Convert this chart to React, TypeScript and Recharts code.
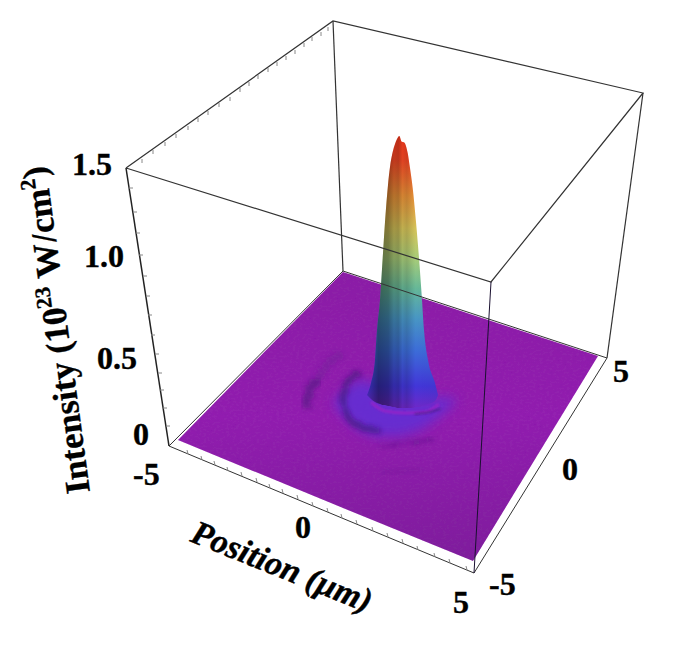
import { ComposedChart, Area, Line, Scatter, XAxis, YAxis } from 'recharts';

type Pt = { x: number; y: number };

const topFace: Pt[] = [{ x: 126, y: 168 }, { x: 333, y: 21 }, { x: 643, y: 93 }, { x: 491, y: 282 }, { x: 126, y: 168 }];
const bottomFace: Pt[] = [{ x: 169, y: 446 }, { x: 343, y: 271 }, { x: 607, y: 358 }, { x: 474, y: 573 }, { x: 169, y: 446 }];
const leftEdge: Pt[] = [{ x: 126, y: 168 }, { x: 169, y: 446 }];
const backEdge: Pt[] = [{ x: 333, y: 21 }, { x: 343, y: 271 }];
const rightEdge: Pt[] = [{ x: 643, y: 93 }, { x: 607, y: 358 }];
const frontEdge: Pt[] = [{ x: 491, y: 282 }, { x: 474, y: 573 }];

const floorX = [178, 343, 473, 598];
const floorTop = [440, 272, 315, 356];
const floorBottom = [440, 508, 561, 356];

const peakX = [367, 371, 375, 377, 380, 382.7, 385, 388, 390, 392.7, 395, 397, 399.3, 401.7, 404, 407.7, 410, 412.7, 416, 419, 422, 424, 428, 435, 438];
const peakTop = [395, 383, 360, 330, 300, 258, 222, 185, 167, 152, 144, 139, 136, 141.7, 142.3, 153, 168, 188, 222, 258, 300, 330, 360, 383, 395];
const peakBottom = [395, 399, 402, 403, 404, 405, 405, 406, 406, 407, 407, 408, 408, 408, 408, 408, 408, 408, 407, 407, 406, 405, 404, 401, 395];

const haloX = [334, 350, 360, 375, 400, 420, 435, 455];
const haloTop = [402, 384, 380, 384, 392, 398, 398, 398];
const haloBottom = [405, 422, 430, 436, 436, 430, 420, 403];

const crescent: Pt[] = [{ x: 358, y: 374 }, { x: 349, y: 380 }, { x: 344, y: 393 }, { x: 343, y: 408 }, { x: 350, y: 420 }, { x: 362, y: 427 }, { x: 377, y: 430 }];
const baseRing: Pt[] = [{ x: 372, y: 403 }, { x: 385, y: 411 }, { x: 405, y: 413 }, { x: 425, y: 412 }, { x: 438, y: 405 }];
const baseCrease: Pt[] = [{ x: 415, y: 414 }, { x: 430, y: 412 }, { x: 440, y: 409 }];
const lowerRipple: Pt[] = [{ x: 383, y: 447 }, { x: 405, y: 443 }, { x: 433, y: 440 }];
const faintRipple: Pt[] = [{ x: 383, y: 473 }, { x: 405, y: 471 }, { x: 423, y: 469 }];
const outerRipple: Pt[] = [{ x: 340, y: 356 }, { x: 330, y: 362 }, { x: 318, y: 378 }];
const outerPatch: Pt[] = [{ x: 316, y: 382 }, { x: 309, y: 392 }, { x: 306, y: 405 }];

const topTicks: Pt[] = [
  { x: 142, y: 159 }, { x: 153, y: 150 }, { x: 165, y: 142 }, { x: 176, y: 134 }, { x: 188, y: 126 },
  { x: 198, y: 118 }, { x: 208, y: 111 }, { x: 219, y: 103 }, { x: 230, y: 97 }, { x: 240, y: 88 },
  { x: 249, y: 82 }, { x: 258, y: 75 }, { x: 268, y: 68 }, { x: 277, y: 62 }, { x: 286, y: 56 },
  { x: 295, y: 50 }, { x: 304, y: 43 }, { x: 312, y: 37 }, { x: 321, y: 32 }, { x: 328, y: 27 },
];
const intensityTicks: Pt[] = [
  { x: 129, y: 188 }, { x: 133, y: 212 }, { x: 136, y: 233 }, { x: 139, y: 255 }, { x: 143, y: 276 }, { x: 146, y: 296 },
  { x: 148, y: 315 }, { x: 151, y: 335 }, { x: 155, y: 354 }, { x: 158, y: 373 }, { x: 160, y: 390 }, { x: 163, y: 408 }, { x: 166, y: 426 },
];
const positionTicks: Pt[] = [
  { x: 188, y: 454 }, { x: 202, y: 460 }, { x: 215, y: 465 }, { x: 228, y: 471 }, { x: 242, y: 476 }, { x: 257, y: 482 }, { x: 270, y: 488 },
  { x: 283, y: 493 }, { x: 298, y: 499 }, { x: 313, y: 506 }, { x: 328, y: 512 }, { x: 342, y: 518 }, { x: 357, y: 524 }, { x: 373, y: 531 },
  { x: 388, y: 537 }, { x: 403, y: 543 }, { x: 418, y: 550 }, { x: 435, y: 557 }, { x: 450, y: 563 }, { x: 467, y: 570 },
];

const tickLabels = [
  { x: 72, y: 175, label: '1.5' }, { x: 84, y: 267, label: '1.0' }, { x: 97, y: 369, label: '0.5' }, { x: 133, y: 445, label: '0' },
  { x: 133, y: 485, label: '-5' }, { x: 295, y: 538, label: '0' }, { x: 453, y: 613, label: '5' },
  { x: 613, y: 382, label: '5' }, { x: 562, y: 480, label: '0' }, { x: 489, y: 595, label: '-5' },
];
const positionTitle = [{ x: 189, y: 541 }];
const intensityTitle = [{ x: 90, y: 492 }];

const zip3 = (xs: number[], lo: number[], hi: number[]) => xs.map((x, i) => ({ x, range: [lo[i], hi[i]] }));

const serif = '"Liberation Serif", "Times New Roman", serif';

const TickLabel = (p: any) => (
  <text x={p.cx} y={p.cy} fontFamily={serif} fontWeight="bold" fontSize={32} fill="#000" stroke="#000" strokeWidth={0.4}>
    {p.payload.label}
  </text>
);

const PositionTitle = (p: any) => (
  <text transform={`translate(${p.cx},${p.cy}) rotate(22)`} fontFamily={serif} fontWeight="bold" fontStyle="italic" fontSize={34} fill="#000" stroke="#000" strokeWidth={0.4}>
    Position (μm)
  </text>
);

const IntensityTitle = (p: any) => (
  <text transform={`translate(${p.cx},${p.cy}) rotate(-97.7)`} fontFamily={serif} fontWeight="bold" fontSize={35} fill="#000" stroke="#000" strokeWidth={0.3}>
    Intensity (10
    <tspan fontSize={22} dy={-13}>23</tspan>
    <tspan dy={13}> W/cm</tspan>
    <tspan fontSize={22} dy={-13}>2</tspan>
    <tspan dy={13}>)</tspan>
  </text>
);

const tick = (dx: number, dy: number) => (p: any) => (
  <line x1={p.cx} y1={p.cy} x2={p.cx + dx} y2={p.cy + dy} stroke="#888" strokeWidth={1} />
);

const edge = (pts: Pt[], w = 1.2, color = '#333') => (
  <Line data={pts} dataKey="y" stroke={color} strokeWidth={w} dot={false} activeDot={false} isAnimationActive={false} legendType="none" />
);

const ripple = (pts: Pt[], w: number, color: string, opacity: number, filter = 'url(#fuzz)') => (
  <Line data={pts} dataKey="y" type="monotone" stroke={color} strokeWidth={w} strokeOpacity={opacity} strokeLinecap="round" dot={false} activeDot={false} isAnimationActive={false} filter={filter} />
);

export default function App() {
  return (
    <div style={{ position: 'absolute', left: 0, top: 0, width: 680, height: 647, background: '#fff' }}>
      <ComposedChart width={680} height={647} margin={{ top: 0, right: 0, bottom: 0, left: 0 }}>
        <defs>
          <linearGradient id="floorFill" x1="0" y1="0" x2="0" y2="1">
            <stop offset="0%" stopColor="#8c22a6" />
            <stop offset="50%" stopColor="#9324b0" />
            <stop offset="100%" stopColor="#7f209c" />
          </linearGradient>
          <linearGradient id="peakFill" x1="0" y1="0" x2="0" y2="1">
            <stop offset="0%" stopColor="#ff3a1e" />
            <stop offset="9%" stopColor="#f84a26" />
            <stop offset="22%" stopColor="#ea9238" />
            <stop offset="34%" stopColor="#d4c258" />
            <stop offset="45%" stopColor="#a8cc78" />
            <stop offset="56%" stopColor="#66b898" />
            <stop offset="67%" stopColor="#4896c4" />
            <stop offset="79%" stopColor="#3c6cd8" />
            <stop offset="92%" stopColor="#4236d8" />
            <stop offset="100%" stopColor="#6e28c8" />
          </linearGradient>
          <linearGradient id="peakShade" x1="0" y1="0" x2="1" y2="0">
            <stop offset="0%" stopColor="#000" stopOpacity="0.15" />
            <stop offset="16%" stopColor="#000" stopOpacity="0.45" />
            <stop offset="30%" stopColor="#000" stopOpacity="0.38" />
            <stop offset="38%" stopColor="#000" stopOpacity="0.22" />
            <stop offset="44%" stopColor="#000" stopOpacity="0.26" />
            <stop offset="50%" stopColor="#000" stopOpacity="0.1" />
            <stop offset="56%" stopColor="#000" stopOpacity="0.16" />
            <stop offset="68%" stopColor="#000" stopOpacity="0" />
            <stop offset="100%" stopColor="#000" stopOpacity="0.03" />
          </linearGradient>
          <filter id="fuzz" x="-50%" y="-50%" width="200%" height="200%">
            <feTurbulence type="fractalNoise" baseFrequency="0.3" numOctaves="2" seed="7" result="n" />
            <feDisplacementMap in="SourceGraphic" in2="n" scale="9" result="d" />
            <feGaussianBlur in="d" stdDeviation="2.3" />
          </filter>
          <filter id="soft" x="-40%" y="-40%" width="180%" height="180%">
            <feGaussianBlur stdDeviation="1.2" />
          </filter>
          <filter id="softer" x="-40%" y="-40%" width="180%" height="180%">
            <feGaussianBlur stdDeviation="6" />
          </filter>
          <filter id="grain" x="0" y="0" width="100%" height="100%">
            <feTurbulence type="fractalNoise" baseFrequency="0.3 0.5" numOctaves="2" seed="4" result="n" />
            <feColorMatrix in="n" type="matrix" values="0 0 0 0 0.22  0 0 0 0 0  0 0 0 0 0.38  0 0 0 0.6 -0.24" result="m" />
            <feComposite in="m" in2="SourceGraphic" operator="in" result="c" />
            <feMerge>
              <feMergeNode in="SourceGraphic" />
              <feMergeNode in="c" />
            </feMerge>
          </filter>
        </defs>

        <XAxis dataKey="x" type="number" domain={[0, 680]} hide allowDataOverflow />
        <YAxis dataKey="y" type="number" domain={[0, 647]} reversed hide allowDataOverflow />

        <Area data={zip3(floorX, floorTop, floorBottom)} dataKey="range" fill="url(#floorFill)" fillOpacity={1} stroke="none" isAnimationActive={false} filter="url(#grain)" />
        <Area data={zip3(haloX, haloTop, haloBottom)} dataKey="range" fill="#5c30d8" fillOpacity={0.8} stroke="none" isAnimationActive={false} filter="url(#softer)" />
        <Area data={zip3(peakX, peakTop, peakBottom)} dataKey="range" type="monotone" fill="url(#peakFill)" fillOpacity={1} stroke="none" isAnimationActive={false} />
        <Area data={zip3(peakX, peakTop, peakBottom)} dataKey="range" type="monotone" fill="url(#peakShade)" fillOpacity={1} stroke="none" isAnimationActive={false} />

        {ripple(crescent, 7, '#33166e', 0.5)}
        {ripple(baseRing, 3, '#a322c6', 0.7, 'url(#soft)')}
        {ripple(baseCrease, 1.5, '#44187c', 0.8, 'url(#soft)')}
        {ripple(lowerRipple, 2.5, '#44187c', 0.45)}
        {ripple(faintRipple, 2.5, '#44187c', 0.22)}
        {ripple(outerRipple, 8, '#47207f', 0.22)}
        {ripple(outerPatch, 9, '#3c1a72', 0.45)}

        {edge(bottomFace, 1)}
        {edge(topFace)}
        {edge(leftEdge, 1.5, '#222')}
        {edge(backEdge)}
        {edge(rightEdge)}
        {edge(frontEdge, 1, '#1a1030')}

        <Scatter data={topTicks} shape={tick(0, 4)} isAnimationActive={false} />
        <Scatter data={intensityTicks} shape={tick(4, 0)} isAnimationActive={false} />
        <Scatter data={positionTicks} shape={tick(-1, -4)} isAnimationActive={false} />

        <Scatter data={tickLabels} shape={TickLabel} isAnimationActive={false} />
        <Scatter data={positionTitle} shape={PositionTitle} isAnimationActive={false} />
        <Scatter data={intensityTitle} shape={IntensityTitle} isAnimationActive={false} />
      </ComposedChart>
    </div>
  );
}
